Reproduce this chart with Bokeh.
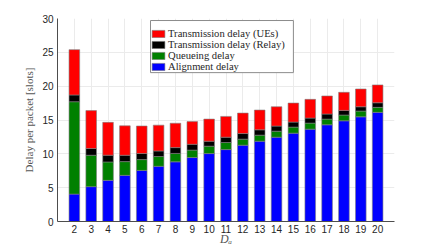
from bokeh.plotting import figure
from bokeh.models import ColumnDataSource, Legend, LegendItem, Range1d, BoxAnnotation
from bokeh.embed import file_html
from bokeh.resources import INLINE

d_a = [2, 3, 4, 5, 6, 7, 8, 9, 10, 11, 12, 13, 14, 15, 16, 17, 18, 19, 20]
alignment = [4.05, 5.15, 6.08, 6.82, 7.55, 8.16, 8.82, 9.45, 10.04, 10.63,
             11.28, 11.87, 12.46, 13.06, 13.65, 14.29, 14.88, 15.47, 16.13]
queueing = [13.65, 4.64, 2.72, 2.03, 1.6, 1.44, 1.24, 1.1, 1.09, 1.04,
            0.89, 0.89, 0.89, 0.89, 0.89, 0.84, 0.85, 0.85, 0.74]
relay = [1.0, 1.0, 1.0, 0.94, 0.9, 0.83, 0.86, 0.86, 0.74, 0.79,
         0.83, 0.79, 0.75, 0.74, 0.74, 0.75, 0.69, 0.64, 0.68]
ues = [6.7, 5.6, 4.85, 4.35, 4.06, 3.81, 3.6, 3.35, 3.26, 3.07,
       3.02, 2.92, 2.86, 2.81, 2.77, 2.67, 2.67, 2.62, 2.63]
y_ticks = [0, 5, 10, 15, 20, 25, 30]

series = ["alignment", "queueing", "relay", "ues"]
labels = ["Alignment delay", "Queueing delay", "Transmission delay (Relay)",
          "Transmission delay (UEs)"]
colors = ["#0000ff", "#008000", "#000000", "#ff0000"]

src = ColumnDataSource(dict(x=d_a, alignment=alignment, queueing=queueing,
                            relay=relay, ues=ues))

p = figure(frame_width=337, frame_height=203, output_backend="svg",
           toolbar_location=None,
           x_range=Range1d(1, 21), y_range=Range1d(0, 30),
           min_border_left=57, min_border_right=42, min_border_top=18,
           min_border_bottom=26)

rs = p.vbar_stack(series, x="x", width=0.63, fill_color=colors,
                  line_color="#7f7f7f", line_width=0.6, source=src)

# legend frame (white box with grey outline) drawn beneath the legend entries
legend_box = BoxAnnotation(left=6.52, right=15.0, bottom=22.0, top=29.7,
                           fill_color="#ffffff", fill_alpha=1.0,
                           line_color="#8c8c8c", line_width=1, line_alpha=1.0)
p.add_layout(legend_box)

items = [LegendItem(label=labels[i], renderers=[rs[i]]) for i in [3, 2, 1, 0]]
legend = Legend(items=items, location=(93, 149),
                glyph_width=16, glyph_height=9, label_standoff=2,
                padding=3, spacing=0, margin=0, label_height=9,
                label_text_font="Liberation Serif", label_text_font_size="10.6px",
                label_text_line_height=1.0,
                label_text_color="#262626", border_line_color=None,
                background_fill_alpha=0.0)
p.add_layout(legend)

p.outline_line_color = None
p.xaxis.ticker = d_a
p.yaxis.ticker = y_ticks
for ax in [p.xaxis, p.yaxis]:
    ax.major_tick_line_color = None
    ax.minor_tick_line_color = None
    ax.major_tick_out = 0
    ax.major_tick_in = 0
    ax.minor_tick_out = 0
    ax.minor_tick_in = 0
    ax.axis_line_color = "#4d4d4d"
    ax.major_label_text_font = "Liberation Sans"
    ax.major_label_text_font_size = "10px"
    ax.major_label_text_color = "#262626"
    ax.axis_label_text_font = "Liberation Serif"
    ax.axis_label_text_font_style = "normal"
    ax.axis_label_text_color = "#555555"
p.yaxis.major_label_standoff = 4
p.xaxis.major_label_standoff = 3
p.yaxis.axis_label = "Delay per packet [slots]"
p.yaxis.axis_label_text_font_size = "11px"
p.yaxis.axis_label_standoff = 4
p.xaxis.axis_label = "Dₐ"
p.xaxis.axis_label_text_font_style = "italic"
p.xaxis.axis_label_text_font_size = "12px"
p.xaxis.axis_label_standoff = -4

p.xgrid.grid_line_color = "#ebebeb"
p.ygrid.grid_line_color = "#ebebeb"
p.xgrid.ticker = d_a
p.ygrid.ticker = y_ticks

open("out.html", "w").write(file_html(p, INLINE))
